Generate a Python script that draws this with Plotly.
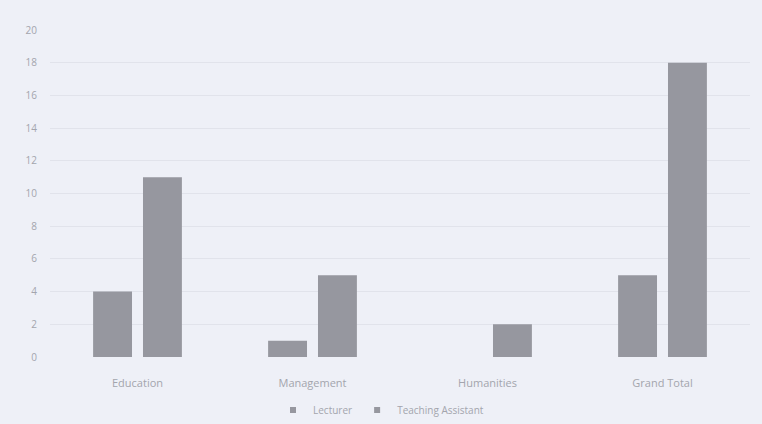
import plotly.graph_objects as go

categories = ["Education", "Management", "Humanities", "Grand Total"]
lecturer = [4, 1, 0, 5]
teaching_assistant = [11, 5, 2, 18]
y_ticks = list(range(0, 21, 2))

bar_color = "#96979f"
text_color = "#a3a5ad"
bg = "#eef0f7"

fig = go.Figure()
fig.add_trace(go.Bar(name="Lecturer", x=categories, y=lecturer, showlegend=False,
                     marker=dict(color=bar_color, line=dict(width=0))))
fig.add_trace(go.Bar(name="Teaching Assistant", x=categories, y=teaching_assistant,
                     showlegend=False, marker=dict(color=bar_color, line=dict(width=0))))

# small square legend keys
for name in ["Lecturer", "Teaching Assistant"]:
    fig.add_trace(go.Scatter(name=name, x=[None], y=[None], mode="markers",
                             marker=dict(symbol="square", size=6, color=bar_color)))

fig.update_layout(
    width=762, height=424,
    paper_bgcolor=bg, plot_bgcolor=bg,
    margin=dict(l=50, r=12, t=30, b=67, autoexpand=False),
    barmode="group", bargap=0.43, bargroupgap=0.22,
    font=dict(family="Open Sans, Liberation Sans, sans-serif", size=10, color=text_color),
    showlegend=True,
    legend=dict(orientation="h", x=0.5, xanchor="center", xref="container",
                y=0.033, yanchor="middle", yref="container",
                font=dict(size=10, color=text_color), itemwidth=30,
                tracegroupgap=0, bgcolor="rgba(0,0,0,0)"),
)
fig.update_xaxes(showgrid=False, showline=False, ticks="", ticklabelstandoff=18,
                 tickfont=dict(size=11, color=text_color))
fig.update_yaxes(range=[0, 20], tickvals=y_ticks, showgrid=True, gridcolor="#e1e3eb",
                 gridwidth=1, zeroline=False, showline=False, ticks="",
                 tickfont=dict(size=10, color=text_color), ticklabelstandoff=12)

fig.write_html("out.html")
